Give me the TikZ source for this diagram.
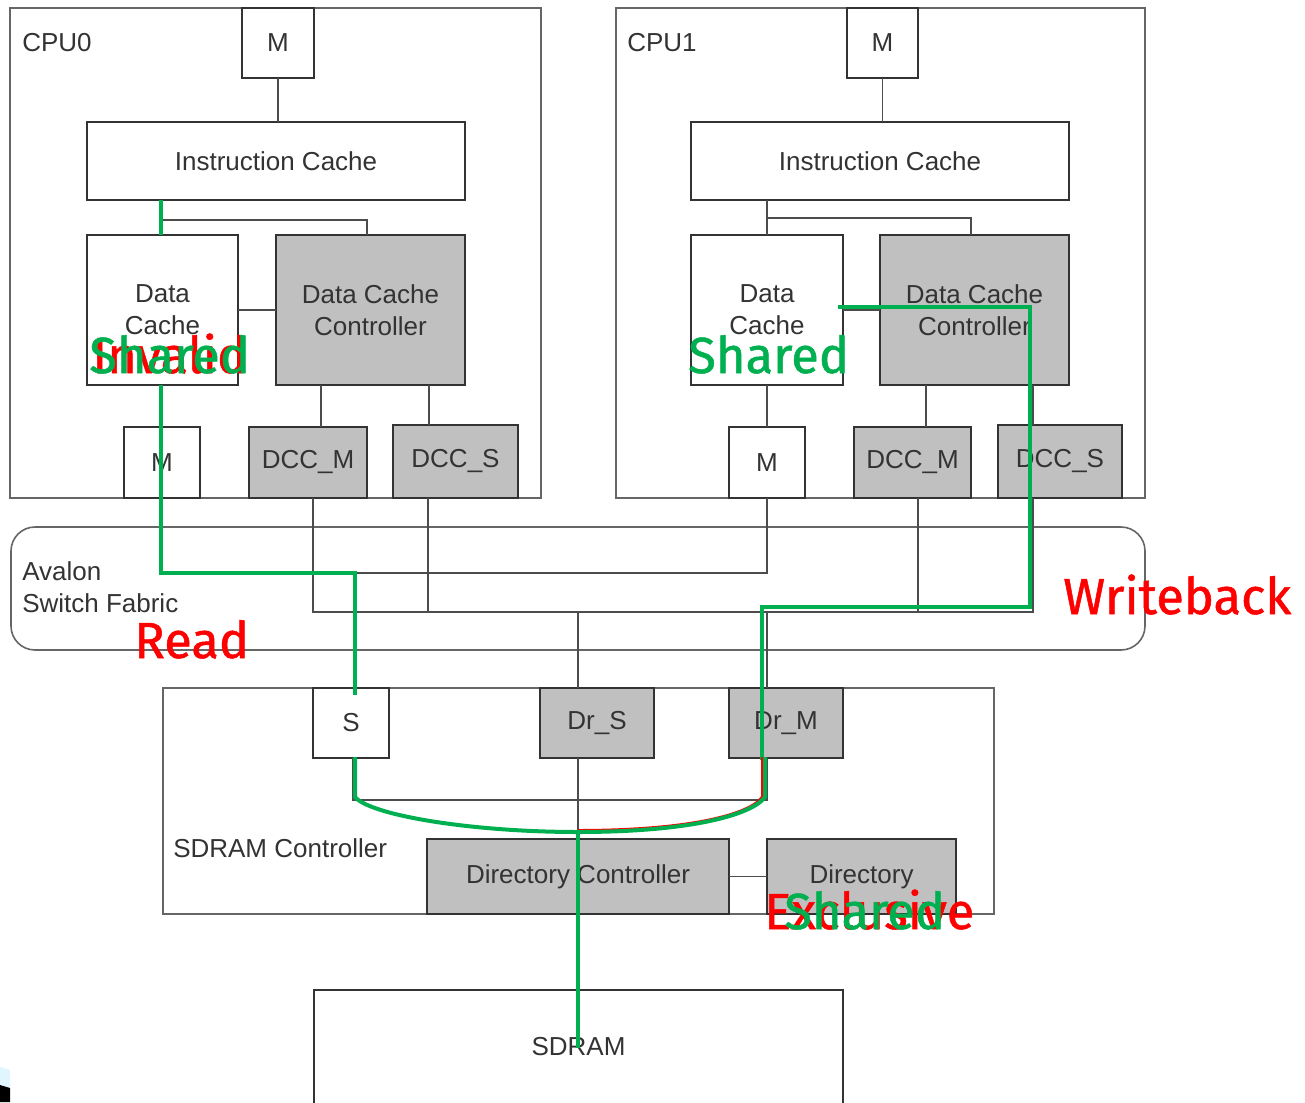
\documentclass[tikz,border=0pt]{standalone}
\usepackage{fontspec}
\setmainfont{Liberation Sans}
\newfontfamily\labelfont[FakeBold=1]{Fira Sans}
\definecolor{pathgreen}{HTML}{00B050}
\definecolor{boxgray}{HTML}{C0C0C0}
\definecolor{inkgray}{HTML}{333333}

% \pbox[style]{x1}{y1}{x2}{y2}{name}{text}: a box given by its corners (pixel units)
\newcommand\pbox[7][]{%
  \node[blk,#1,minimum width={(#4-#2)*0.75pt},minimum height={(#5-#3)*0.75pt}]
    (#6) at ({(#2+#4)/2},{(#3+#5)/2}) {#7};}

\tikzset{
  blk/.style={draw=inkgray, line width=1.2pt, inner sep=0pt, outer sep=0pt,
    align=center, font=\fontsize{19.5}{24}\selectfont, text=inkgray},
  grayfill/.style={fill=boxgray},
  whitefill/.style={fill=white},
  cpuframe/.style={draw=black!60},
  wire/.style={draw=black!70, line width=1.2pt},
  route/.style={draw=pathgreen, line width=3pt},
  statelabel/.style={font=\labelfont\fontsize{38}{44}\selectfont, anchor=base west, inner sep=0pt},
  plaintext/.style={font=\fontsize{19.5}{24}\selectfont, text=inkgray, align=left, inner sep=0pt}
}

\begin{document}
\begin{tikzpicture}[x=0.75pt, y=-0.75pt]
\clip (0,0) rectangle (1305,1102);
\fill[white] (0,0) rectangle (1305,1102);

% ---------- CPU0 ----------
\pbox[cpuframe]{10}{8}{541}{498}{cpu0}{}
\node[plaintext, anchor=west] (cpu0lbl) at (22,43) {CPU0};
\pbox[whitefill]{242}{8}{314}{78}{mtop0}{M}
\pbox[whitefill]{87}{122}{465}{200}{ic0}{Instruction Cache}
\pbox[whitefill]{87}{235}{238}{385}{dc0}{Data\\Cache}
\pbox[grayfill]{276}{235}{465}{385}{dcc0}{Data Cache\\Controller}
\pbox[whitefill]{124}{427}{200}{498}{mb0}{M}
\pbox[grayfill]{249}{427}{367}{498}{dccm0}{DCC\_M}
\pbox[grayfill]{393}{425}{518}{498}{dccs0}{DCC\_S}

% ---------- CPU1 ----------
\pbox[cpuframe]{616}{8}{1145}{498}{cpu1}{}
\node[plaintext, anchor=west] (cpu1lbl) at (627,43) {CPU1};
\pbox[whitefill]{847}{8}{918}{78}{mtop1}{M}
\pbox[whitefill]{691}{122}{1069}{200}{ic1}{Instruction Cache}
\pbox[whitefill]{691}{235}{843}{385}{dc1}{Data\\Cache}
\pbox[grayfill]{880}{235}{1069}{385}{dcc1}{Data Cache\\Controller}
\pbox[whitefill]{729}{427}{805}{498}{mb1}{M}
\pbox[grayfill]{854}{427}{971}{498}{dccm1}{DCC\_M}
\pbox[grayfill]{998}{425}{1122}{498}{dccs1}{DCC\_S}

% ---------- Switch fabric ----------
\pbox[cpuframe, rounded corners=18pt]{11}{527}{1145}{650}{fabric}{}
\node[plaintext, anchor=west] (fabriclbl) at (22,587) {Avalon\\Switch Fabric};

% ---------- SDRAM controller ----------
\pbox[cpuframe]{163}{688}{994}{914}{sdc}{}
\node[plaintext, anchor=west] (sdclbl) at (173,848) {SDRAM Controller};
\pbox[whitefill]{313}{688}{389}{758}{sport}{S}
\pbox[grayfill]{540}{688}{654}{758}{drs}{Dr\_S}
\pbox[grayfill]{729}{688}{843}{758}{drm}{Dr\_M}
\pbox[grayfill]{427}{839}{729}{914}{dirc}{Directory Controller}
\pbox[grayfill]{767}{839}{956}{914}{dir}{Directory}
\pbox[whitefill]{314}{990}{843}{1104}{sdram}{SDRAM}

% ---------- internal CPU connections ----------
\draw[wire] (mtop0.south) -- (mtop0.south |- ic0.north);
\draw[wire] (ic0.south -| dc0.north) -- (dc0.north);
\draw[wire] (dc0.north |- 0,220) -| (dcc0.north -| 367,0);
\draw[wire] (dc0.east) -- (dcc0.west);
\draw[wire] (dc0.south) -- (dc0.south |- mb0.north);
\draw[wire] (dcc0.south -| 321,0) -- (dccm0.north -| 321,0);
\draw[wire] (dcc0.south -| 429,0) -- (dccs0.north -| 429,0);

\draw[wire] (mtop1.south) -- (mtop1.south |- ic1.north);
\draw[wire] (ic1.south -| dc1.north) -- (dc1.north);
\draw[wire] (dc1.north |- 0,218) -| (dcc1.north -| 971,0);
\draw[wire] (dc1.east) -- (dcc1.west);
\draw[wire] (dc1.south) -- (dc1.south |- mb1.north);
\draw[wire] (dcc1.south -| 926,0) -- (dccm1.north -| 926,0);
\draw[wire] (dcc1.south -| 1033,0) -- (dccs1.north -| 1033,0);

% ---------- bus wiring ----------
\coordinate (mbus) at (0,573);
\coordinate (cbus) at (0,612);
\draw[wire] (mb0.south) |- (mbus -| mb1.south) -- (mb1.south);
\draw[wire] (mbus -| 355,0) -- (sport.north -| 355,0);
\draw[wire] (dccm0.south -| 313,0) |- (cbus -| 1033,0) -- (dccs1.south -| 1033,0);
\draw[wire] (dccs0.south -| 428,0) -- (cbus -| 428,0);
\draw[wire] (dccm1.south -| 918,0) -- (cbus -| 918,0);
\draw[wire] (cbus -| 578,0) -- (drs.north -| 578,0);
\draw[wire] (cbus -| 767,0) -- (drm.north -| 767,0);

% ---------- SDRAM controller wiring ----------
\coordinate (mux) at (767,800);
\draw[wire] (sport.south -| 353,0) |- (mux) -- (drm.south -| mux);
\draw[wire] (drs.south -| dirc.north) -- (dirc.north);
\draw[wire] (dirc.east) -- (dir.west);
\draw[wire] (dirc.south) -- (sdram.north);

% ---------- transaction paths ----------
\draw[route] (ic0.south -| 161,0) -- (dc0.north -| 161,0);
\draw[route] (dc0.south -| 161,0) |- (355,573) -- (355,695);
\draw[route] (838,307) -| (1030,607) -| (762,760);
\draw[red, line width=3pt] (763,757) -- (763,797) .. controls (751,815) and (690,831) .. (578,831);
\draw[route] (355,757) -- (355,797) .. controls (370,815) and (470,832) .. (578,832)
  .. controls (690,832) and (752,815) .. (765,797) -- (765,757);
\draw[route] (578,832) -- (578,1048);

% ---------- cache line states ----------
\node[statelabel, text=red] (inv0) at (92,373) {Invalid};
\node[statelabel, text=pathgreen] (sh0) at (89,373) {Shared};
\node[statelabel, text=pathgreen] (sh1) at (688,373) {Shared};
\node[statelabel, text=red] (wb) at (1063,614) {Writeback};
\node[statelabel, text=red] (rd) at (134,658) {Read};
\node[statelabel, text=red] (exc) at (764,929) {Exclusive};
\node[statelabel, text=pathgreen] (sh2) at (784,929) {Shared};

% ---------- corner ornament ----------
\fill[cyan!12!white] (0,1067) -- (10,1070) -- (10,1088) -- (0,1085) -- cycle;
\fill[black] (0,1085) -- (10,1088) -- (10,1102) -- (0,1102) -- cycle;
\end{tikzpicture}
\end{document}
